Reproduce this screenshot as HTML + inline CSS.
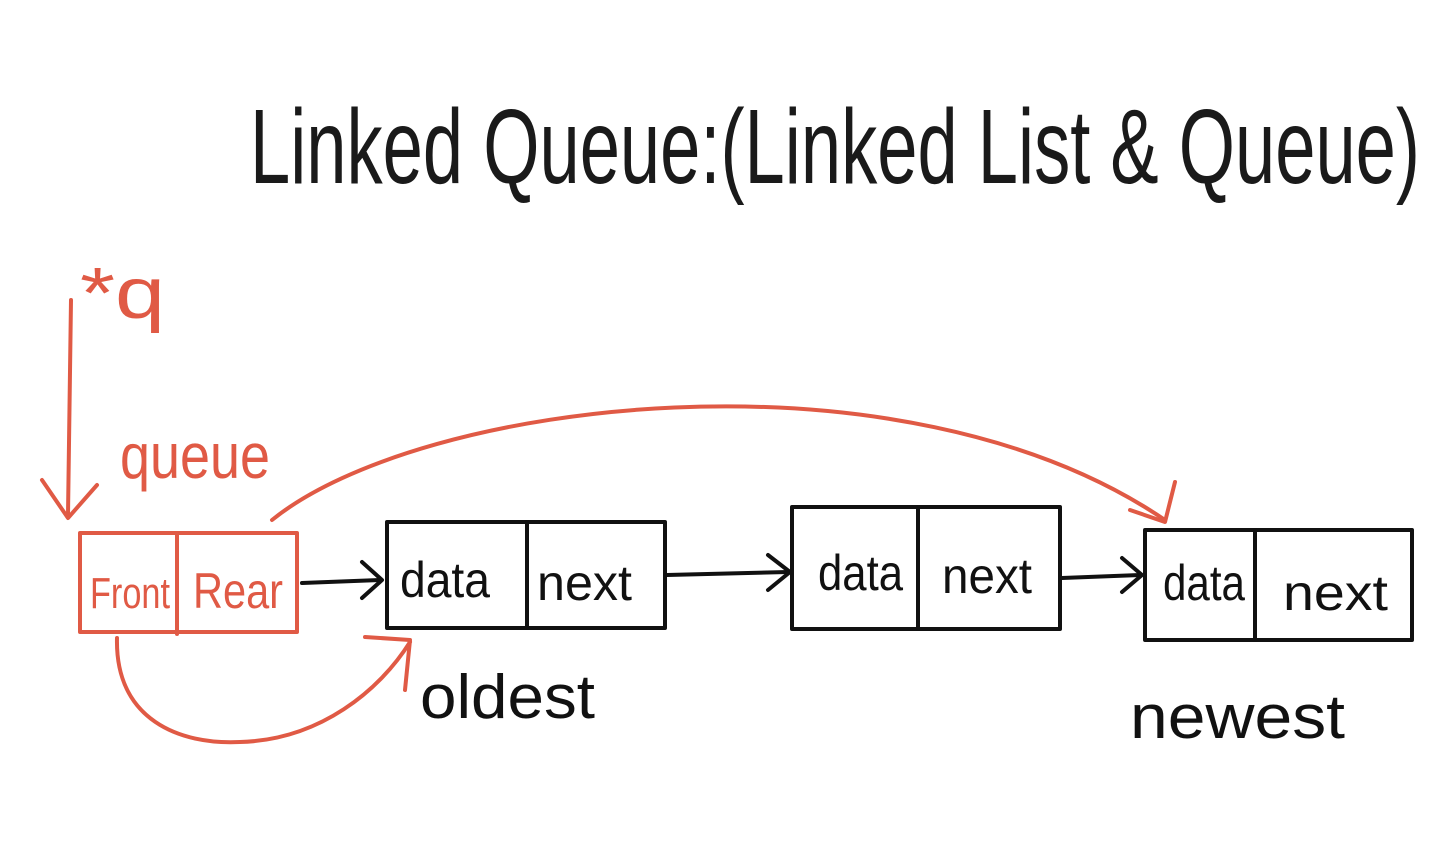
<!DOCTYPE html>
<html><head><meta charset="utf-8"><style>
html,body{margin:0;padding:0;background:#fff;}
svg{display:block;}
text{font-family:"Liberation Sans",sans-serif;}
</style></head><body>
<svg width="1441" height="855" viewBox="0 0 1441 855" xmlns="http://www.w3.org/2000/svg">
<g fill="none" stroke-linecap="round" stroke-linejoin="round">
<!-- title -->
<text x="250" y="183" font-size="106" fill="#1a1a1a" stroke="none" textLength="1170" lengthAdjust="spacingAndGlyphs">Linked Queue:(Linked List &amp; Queue)</text>

<!-- red parts -->
<g stroke="#e05a45" stroke-width="4">
<path d="M71 300 L68 515"/>
<path d="M42 480 L68 518 L97 485"/>
<rect x="80" y="533" width="217" height="99"/>
<path d="M177 533 L177 634"/>
<path d="M272 520 C 420 400, 900 340, 1165 520"/>
<path d="M1130 510 L1165 522 L1175 482"/>
<path d="M117 638 C 115 720, 180 745, 240 742 C 320 740, 380 690, 410 642"/>
<path d="M365 637 L410 640 L405 690"/>
</g>
<g fill="#e05a45" stroke="none">
<text x="80" y="318" font-size="72" textLength="85" lengthAdjust="spacingAndGlyphs">*q</text>
<text x="120" y="478" font-size="64" textLength="150" lengthAdjust="spacingAndGlyphs">queue</text>
<text x="90" y="608" font-size="44" textLength="80" lengthAdjust="spacingAndGlyphs">Front</text>
<text x="193" y="608" font-size="50" textLength="90" lengthAdjust="spacingAndGlyphs">Rear</text>
</g>

<!-- black nodes -->
<g stroke="#111" stroke-width="4">
<rect x="387" y="522" width="278" height="106"/>
<path d="M527 522 L527 628"/>
<rect x="792" y="507" width="268" height="122"/>
<path d="M918 507 L918 629"/>
<rect x="1145" y="530" width="267" height="110"/>
<path d="M1255 530 L1255 640"/>
<path d="M302 583 L380 580"/><path d="M362 562 L382 580 L362 598"/>
<path d="M667 575 L788 572"/><path d="M768 555 L790 572 L768 590"/>
<path d="M1062 578 L1140 575"/><path d="M1122 558 L1142 575 L1122 592"/>
</g>
<g fill="#111" stroke="none">
<text x="400" y="597" font-size="50" textLength="90" lengthAdjust="spacingAndGlyphs">data</text>
<text x="537" y="600" font-size="50" textLength="95" lengthAdjust="spacingAndGlyphs">next</text>
<text x="818" y="590" font-size="50" textLength="85" lengthAdjust="spacingAndGlyphs">data</text>
<text x="942" y="593" font-size="50" textLength="90" lengthAdjust="spacingAndGlyphs">next</text>
<text x="1163" y="600" font-size="50" textLength="82" lengthAdjust="spacingAndGlyphs">data</text>
<text x="1283" y="610" font-size="50" textLength="105" lengthAdjust="spacingAndGlyphs">next</text>
<text x="420" y="718" font-size="62" textLength="175" lengthAdjust="spacingAndGlyphs">oldest</text>
<text x="1130" y="738" font-size="62" textLength="215" lengthAdjust="spacingAndGlyphs">newest</text>
</g>
</g>
</svg>
</body></html>
